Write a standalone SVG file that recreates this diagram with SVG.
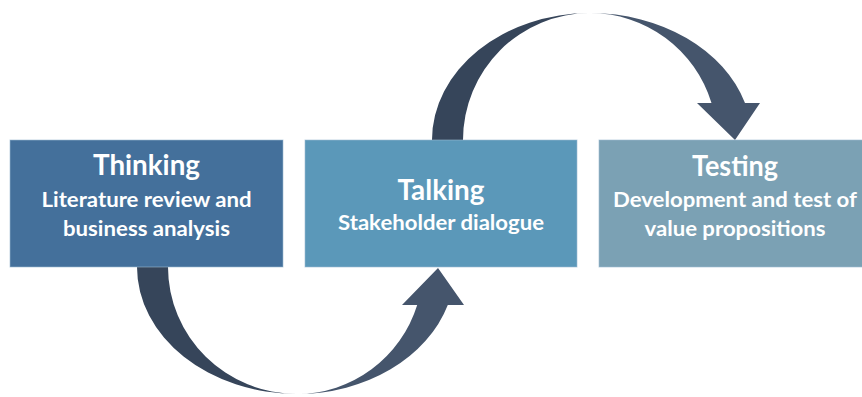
<svg xmlns="http://www.w3.org/2000/svg" width="862" height="397" viewBox="0 0 862 397">
  <style>
    .box { stroke: #9dbbd3; stroke-opacity: 0.6; stroke-width: 1; }
    .title { font-family: Lato, "Open Sans", "Liberation Sans", sans-serif; font-weight: 700; font-size: 28px; fill: #ffffff; text-anchor: middle; }
    .sub { font-family: Lato, "Open Sans", "Liberation Sans", sans-serif; font-weight: 700; font-size: 21px; fill: #ffffff; text-anchor: middle; }
    .tail { fill: #36455a; }
    .head { fill: #45556c; }
  </style>

  <!-- curved connectors: each drawn as a tapering tail half and a head half -->
  <g id="connectors">
    <g id="arrow-thinking-talking">
      <path class="tail" d="M 137 267 A 160 127 0 0 0 297 394 A 129 127 0 0 1 168 267 Z"/>
      <path class="head" d="M 297 394 A 158 127 0 0 0 447.8 305 L 464 305 L 438 268 L 402 305 L 417.2 305 A 126 127 0 0 1 297 394 Z"/>
    </g>
    <g id="arrow-talking-testing">
      <path class="tail" d="M 432 140 A 158 127 0 0 1 590 13 A 127 127 0 0 0 463 140 Z"/>
      <path class="head" d="M 590 13 A 162 127 0 0 1 745 103 L 760 103 L 735 140 L 697 103 L 711.5 103 A 127 127 0 0 0 590 13 Z"/>
    </g>
  </g>

  <g id="thinking">
    <rect class="box" x="10" y="140" width="273" height="127" fill="#44709b"/>
    <text class="title" x="146.5" y="175" textLength="107" lengthAdjust="spacingAndGlyphs">Thinking</text>
    <text class="sub" x="146.5" y="207" textLength="210" lengthAdjust="spacingAndGlyphs">Literature review and</text>
    <text class="sub" x="146.5" y="236" textLength="167" lengthAdjust="spacingAndGlyphs">business analysis</text>
  </g>

  <g id="talking">
    <rect class="box" x="305" y="140" width="272" height="127" fill="#5b98b9"/>
    <text class="title" x="441" y="200" textLength="87" lengthAdjust="spacingAndGlyphs">Talking</text>
    <text class="sub" x="441" y="230" textLength="206" lengthAdjust="spacingAndGlyphs">Stakeholder dialogue</text>
  </g>

  <g id="testing">
    <rect class="box" x="599" y="140" width="272" height="127" fill="#7ba1b4"/>
    <text class="title" x="735" y="176" textLength="86" lengthAdjust="spacingAndGlyphs">Testing</text>
    <text class="sub" x="735" y="207" textLength="244" lengthAdjust="spacingAndGlyphs">Development and test of</text>
    <text class="sub" x="735" y="236" textLength="181" lengthAdjust="spacingAndGlyphs">value propositions</text>
  </g>
</svg>
